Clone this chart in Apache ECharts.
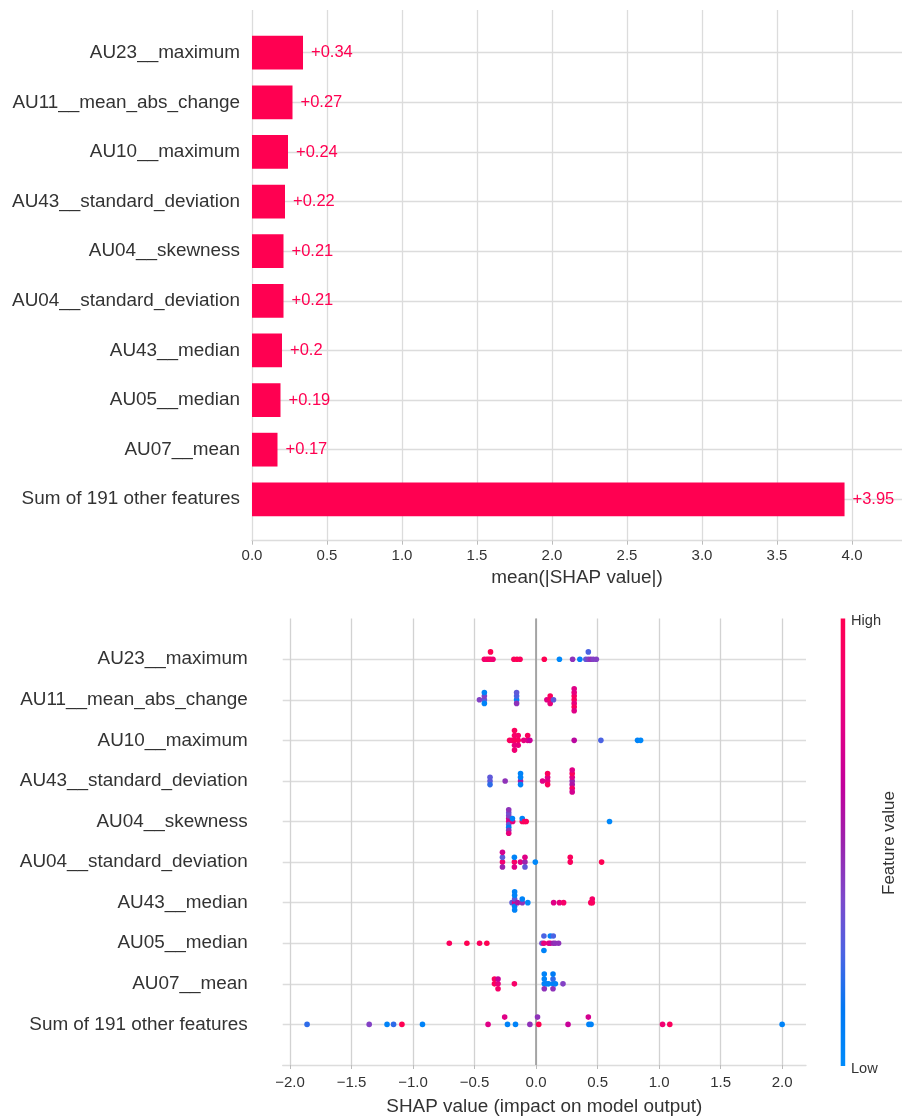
<!DOCTYPE html>
<html>
<head>
<meta charset="utf-8">
<script src="https://cdn.jsdelivr.net/npm/echarts@6.0.0/dist/echarts.min.js"></script>
<style>
  html, body { margin: 0; padding: 0; background: #ffffff; }
  #chart { width: 902px; height: 1117px; }
</style>
</head>
<body>
<div id="chart"></div>
<script>
// Feature names, top to bottom
const features = [
  'AU23__maximum', 'AU11__mean_abs_change', 'AU10__maximum', 'AU43__standard_deviation',
  'AU04__skewness', 'AU04__standard_deviation', 'AU43__median', 'AU05__median',
  'AU07__mean', 'Sum of 191 other features'
];
// mean(|SHAP value|) per feature
const meanAbsShap = [0.34, 0.27, 0.24, 0.22, 0.21, 0.21, 0.2, 0.19, 0.17, 3.95];

// Tick labels
const barTicks = [0, 0.5, 1, 1.5, 2, 2.5, 3, 3.5, 4];
const shapTicks = [-2, -1.5, -1, -0.5, 0, 0.5, 1, 1.5, 2];

// Per-sample [SHAP value, normalised feature value (0 = low, 1 = high)]
const au23Maximum = [
  [-0.42, 0.9], [-0.40, 0.85], [-0.385, 0.95], [-0.37, 0.9], [-0.37, 1.0], [-0.35, 0.85],
  [-0.18, 0.95], [-0.155, 1.0], [-0.13, 0.95], [0.067, 1.0], [0.19, 0.02], [0.297, 0.45],
  [0.356, 0.05], [0.405, 0.3], [0.425, 0.4], [0.425, 0.25], [0.445, 0.45], [0.465, 0.4], [0.49, 0.4]
];
const au11MeanAbsChange = [
  [-0.46, 0.4], [-0.42, 0.3], [-0.42, 0.4], [-0.42, 0.05], [-0.42, 0.05],
  [-0.158, 0.05], [-0.158, 0.25], [-0.158, 0.45], [-0.158, 0.3],
  [0.088, 0.75], [0.115, 0.9], [0.115, 0.95], [0.115, 0.8], [0.142, 0.3],
  [0.31, 0.95], [0.31, 0.95], [0.31, 0.8], [0.31, 0.8], [0.31, 0.95], [0.31, 0.75], [0.31, 0.75]
];
const au10Maximum = [
  [-0.215, 0.95], [-0.195, 0.9],
  [-0.175, 0.95], [-0.175, 0.9], [-0.175, 0.8], [-0.175, 0.95], [-0.175, 0.85],
  [-0.145, 0.95], [-0.145, 0.9], [-0.145, 0.8], [-0.10, 0.8], [-0.068, 0.75], [-0.068, 0.95],
  [-0.05, 0.65], [0.31, 0.6], [0.527, 0.25], [0.825, 0.05], [0.85, 0.02]
];
const au43StandardDeviation = [
  [-0.374, 0.3], [-0.374, 0.3], [-0.374, 0.2], [-0.251, 0.45],
  [-0.126, 0.55], [-0.126, 0.05], [-0.126, 0.05], [-0.126, 0.05], [0.053, 0.75],
  [0.094, 0.8], [0.094, 0.75], [0.094, 0.95], [0.094, 0.95],
  [0.294, 0.5], [0.294, 0.75], [0.294, 0.55], [0.294, 0.95], [0.294, 0.9], [0.294, 0.75], [0.294, 0.7]
];
const au04Skewness = [
  [-0.222, 0.75], [-0.222, 0.7], [-0.222, 0.3], [-0.222, 0.4], [-0.222, 0.1],
  [-0.222, 0.35], [-0.222, 0.45], [-0.222, 0.45], [-0.222, 0.8],
  [-0.19, 0.8], [-0.192, 0.05], [-0.112, 0.95], [-0.112, 0.05], [-0.095, 0.95], [-0.08, 0.95],
  [0.597, 0.02]
];
const au04StandardDeviation = [
  [-0.273, 0.85], [-0.273, 0.3], [-0.273, 0.5], [-0.273, 0.7],
  [-0.176, 0.9], [-0.176, 0.05], [-0.176, 0.75], [-0.127, 0.75],
  [-0.09, 0.5], [-0.09, 0.75], [-0.09, 0.3], [-0.006, 0.02],
  [0.278, 0.95], [0.278, 0.95], [0.533, 1.0]
];
const au43Median = [
  [-0.195, 0.3], [-0.174, 0.75], [-0.174, 0.3], [-0.174, 0.05], [-0.174, 0.05], [-0.174, 0.05], [-0.174, 0.05],
  [-0.15, 0.55], [-0.112, 0.45], [-0.112, 0.05], [-0.067, 0.02],
  [0.143, 0.75], [0.19, 0.8], [0.224, 0.9], [0.445, 0.95], [0.457, 0.95], [0.457, 0.9]
];
const au05Median = [
  [-0.705, 0.95], [-0.562, 1.0], [-0.459, 0.95], [-0.40, 1.0],
  [0.048, 0.35], [0.064, 0.8], [0.064, 0.25], [0.064, 0.05], [0.102, 0.8],
  [0.116, 0.7], [0.116, 0.05], [0.14, 0.5], [0.14, 0.25], [0.156, 0.45], [0.183, 0.45]
];
const au07Mean = [
  [-0.338, 0.95], [-0.338, 0.95], [-0.309, 0.8], [-0.309, 0.65], [-0.309, 0.9], [-0.176, 0.9],
  [0.067, 0.05], [0.067, 0.05], [0.067, 0.45], [0.067, 0.05], [0.085, 0.05], [0.102, 0.05],
  [0.138, 0.05], [0.138, 0.2], [0.138, 0.45], [0.138, 0.1], [0.157, 0.05], [0.219, 0.4]
];
const otherFeaturesSum = [
  [-1.861, 0.2], [-1.356, 0.4], [-1.211, 0.05], [-1.158, 0.2], [-1.09, 1.0], [-0.923, 0.05],
  [-0.39, 0.75], [-0.232, 0.05], [-0.255, 0.75], [-0.167, 0.05], [-0.05, 0.45],
  [0.022, 1.0], [0.012, 0.45], [0.26, 0.65], [0.43, 0.05], [0.425, 0.7], [0.447, 0.05],
  [1.028, 0.85], [1.087, 0.95], [2.0, 0.05]
];
const samplesByFeature = [
  au23Maximum, au11MeanAbsChange, au10Maximum, au43StandardDeviation, au04Skewness,
  au04StandardDeviation, au43Median, au05Median, au07Mean, otherFeaturesSum
];

const RED = '#ff0051';
const TEXT = '#333333';
const GRID_COLOR = '#dcdcdc';
const FONT = "'Liberation Sans', Arial, Helvetica, sans-serif";
const LABEL_SIZE = 18.9;
// red_blue colour map, low -> high
const featureColors = ['#008bfb', '#0078f3', '#4b63e3', '#7d49cb', '#9b23ad', '#c2009c', '#e00086', '#f5006d', '#ff0052'];
const rowIdx = features.map((_, i) => i);

function signed(v) { return '+' + String(Number(v.toFixed(2))); }
function tickText(v) { return (v < 0 ? '\u2212' : '') + Math.abs(v).toFixed(1); }

// Beeswarm stacking: quantise each row into 100 bins and pile
// samples that share a bin alternately above and below the row line.
function swarm(points, row) {
  const xs = points.map(p => p[0]);
  const lo = Math.min(...xs), hi = Math.max(...xs);
  const nbins = 100;
  const quant = xs.map(x => Math.round(nbins * (x - lo) / (hi - lo + 1e-8)));
  const order = xs.map((_, i) => i).sort((a, b) => (quant[a] - quant[b]) || (a - b));
  const ys = new Array(xs.length).fill(0);
  let layer = 0, last = -1;
  for (const i of order) {
    if (quant[i] !== last) layer = 0;
    ys[i] = Math.ceil(layer / 2) * ((layer % 2) * 2 - 1);
    layer++;
    last = quant[i];
  }
  const scale = 0.9 * 0.4 / Math.max(...ys.map(y => y + 1));
  return points.map((p, i) => [p[0], row - ys[i] * scale, p[1]]);
}

const beeswarm = [];
samplesByFeature.forEach((pts, row) => { swarm(pts, row).forEach(d => beeswarm.push(d)); });

const chart = echarts.init(document.getElementById('chart'), null, { renderer: 'canvas' });

const option = {
  animation: false,
  backgroundColor: '#ffffff',
  textStyle: { fontFamily: FONT },
  grid: [
    { left: 252, top: 10, width: 650, height: 530.7 },
    { left: 282.7, top: 618.6, width: 523.3, height: 447.4 }
  ],
  xAxis: [
    {
      gridIndex: 0, type: 'value', min: 0, max: 4.333, position: 'bottom',
      axisLine: { show: true, onZero: false, lineStyle: { color: GRID_COLOR, width: 1.3 } },
      axisTick: { show: true, customValues: barTicks, length: 4, lineStyle: { color: '#bbbbbb', width: 1 } },
      axisLabel: { customValues: barTicks, formatter: v => v.toFixed(1), color: TEXT, fontSize: 15, margin: 8, fontFamily: FONT },
      splitLine: { show: true, lineStyle: { color: GRID_COLOR, width: 1.3 } },
      name: 'mean(|SHAP value|)', nameLocation: 'middle', nameGap: 28,
      nameTextStyle: { fontSize: LABEL_SIZE, color: TEXT, fontFamily: FONT }
    },
    {
      gridIndex: 1, type: 'value', min: -2.059, max: 2.194, position: 'bottom',
      axisLine: { show: true, onZero: false, lineStyle: { color: GRID_COLOR, width: 1.3 } },
      axisTick: { show: true, customValues: shapTicks, length: 4, lineStyle: { color: '#bbbbbb', width: 1 } },
      axisLabel: { customValues: shapTicks, formatter: tickText, color: TEXT, fontSize: 15, margin: 10, fontFamily: FONT },
      splitLine: { show: true, lineStyle: { color: '#d2d2d2', width: 1.3 } },
      name: 'SHAP value (impact on model output)', nameLocation: 'middle', nameGap: 32,
      nameTextStyle: { fontSize: LABEL_SIZE, color: TEXT, fontFamily: FONT }
    }
  ],
  yAxis: [
    {
      gridIndex: 0, type: 'value', inverse: true, min: -0.861, max: 9.835,
      axisLine: { show: false, onZero: false },
      axisTick: { show: false, customValues: rowIdx },
      axisLabel: { customValues: rowIdx, formatter: v => features[v], color: TEXT, fontSize: LABEL_SIZE, margin: 12, fontFamily: FONT },
      splitLine: { show: true, lineStyle: { color: GRID_COLOR, width: 1.3 } }
    },
    {
      gridIndex: 1, type: 'value', inverse: true, min: -1, max: 10,
      axisLine: { show: false, onZero: false },
      axisTick: { show: false, customValues: rowIdx },
      axisLabel: { customValues: rowIdx, formatter: v => features[v], color: TEXT, fontSize: LABEL_SIZE, margin: 35, fontFamily: FONT },
      splitLine: { show: true, lineStyle: { color: GRID_COLOR, width: 1.3 } }
    }
  ],
  visualMap: {
    show: false, type: 'continuous', dimension: 2, seriesIndex: 1,
    min: 0, max: 1, inRange: { color: featureColors }
  },
  series: [
    {
      type: 'custom', xAxisIndex: 0, yAxisIndex: 0, z: 3,
      data: meanAbsShap.map((v, i) => [v, i]),
      renderItem: function (params, api) {
        const v = api.value(0), i = api.value(1);
        const a = api.coord([0, i]);
        const b = api.coord([v, i]);
        const h = api.size([0, 0.68])[1];
        return {
          type: 'rect',
          shape: { x: a[0], y: a[1] - h / 2, width: b[0] - a[0], height: h },
          style: { fill: RED },
          textContent: { style: { text: signed(v), fill: RED, fontSize: 16.5, fontFamily: FONT } },
          textConfig: { position: 'right', distance: 8 }
        };
      }
    },
    {
      type: 'scatter', xAxisIndex: 1, yAxisIndex: 1, z: 3,
      symbol: 'circle', symbolSize: 5.6,
      data: beeswarm,
      itemStyle: { opacity: 1 }
    },
    {
      type: 'scatter', xAxisIndex: 1, yAxisIndex: 1, z: 1, data: [],
      markLine: {
        silent: true, z: 1, symbol: ['none', 'none'],
        label: { show: false },
        lineStyle: { color: '#999999', width: 1.6, type: 'solid' },
        data: [{ xAxis: 0 }]
      }
    }
  ],
  graphic: [
    {
      type: 'rect', left: 840.7, top: 618.6,
      shape: { width: 4.5, height: 447.4 },
      style: {
        fill: new echarts.graphic.LinearGradient(0, 1, 0, 0,
          featureColors.map((c, i) => ({ offset: i / (featureColors.length - 1), color: c })))
      }
    },
    { type: 'text', left: 851, top: 613, style: { text: 'High', fontSize: 14.6, fill: TEXT, fontFamily: FONT } },
    { type: 'text', left: 851, top: 1061, style: { text: 'Low', fontSize: 14.6, fill: TEXT, fontFamily: FONT } },
    {
      type: 'text', x: 889, y: 843, rotation: Math.PI / 2,
      style: { text: 'Feature value', fontSize: 17, fill: TEXT, fontFamily: FONT, align: 'center', verticalAlign: 'middle' }
    }
  ]
};

chart.setOption(option);
</script>
</body>
</html>
